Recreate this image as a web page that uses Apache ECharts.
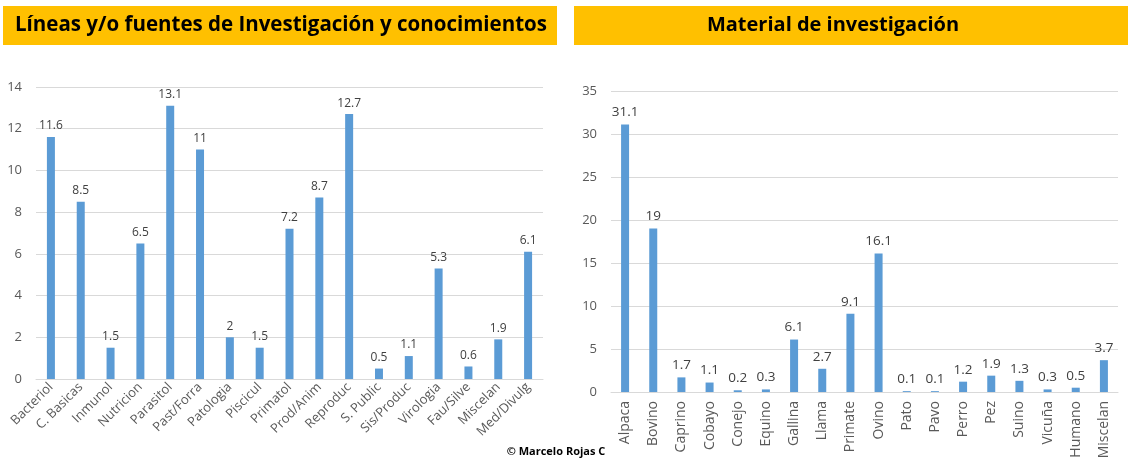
<!DOCTYPE html>
<html><head><meta charset="utf-8">
<script src="https://cdn.jsdelivr.net/npm/echarts@6/dist/echarts.min.js"></script>
<style>html,body{margin:0;padding:0;background:#fff}#c{width:1128px;height:464px}</style>
</head><body><div id="c"></div>
<script>
const leftTitle = "Líneas y/o fuentes de Investigación y conocimientos";
const rightTitle = "Material de investigación";
const leftCats = ["Bacteriol","C. Basicas","Inmunol","Nutricion","Parasitol","Past/Forra","Patologia","Piscicul","Primatol","Prod/Anim","Reproduc","S. Public","Sis/Produc","Virologia","Fau/Silve","Miscelan","Med/Divulg"];
const leftVals = [11.6,8.5,1.5,6.5,13.1,11,2,1.5,7.2,8.7,12.7,0.5,1.1,5.3,0.6,1.9,6.1];
const rightCats = ["Alpaca","Bovino","Caprino","Cobayo","Conejo","Equino","Gallina","Llama","Primate","Ovino","Pato","Pavo","Perro","Pez","Suino","Vicuña","Humano","Miscelan"];
const rightVals = [31.1,19,1.7,1.1,0.2,0.3,6.1,2.7,9.1,16.1,0.1,0.1,1.2,1.9,1.3,0.3,0.5,3.7];
const credit = "© Marcelo Rojas C";

const FONT = "'Open Sans', 'Liberation Sans', sans-serif";
const chart = echarts.init(document.getElementById('c'));
function xAxis(idx, cats, rot, fs, mg){
  return {type:'category', gridIndex:idx, data:cats,
    axisLine:{lineStyle:{color:'#D9D9D9'}}, axisTick:{show:false},
    axisLabel:{rotate:rot, color:'#595959', fontSize:fs, fontFamily:FONT, interval:0, margin:mg}};
}
function yAxis(idx, max, step){
  return {type:'value', gridIndex:idx, min:0, max:max, interval:step,
    axisLine:{show:false}, axisTick:{show:false},
    splitLine:{lineStyle:{color:'#D9D9D9'}},
    axisLabel:{color:'#595959', fontSize:13, fontFamily:FONT, margin:14}};
}
function series(idx, vals, fs){
  return {type:'bar', xAxisIndex:idx, yAxisIndex:idx, data:vals, barWidth:8,
    itemStyle:{color:'#5B9BD5'},
    label:{show:true, position:'top', color:'#404040', fontSize:fs, fontFamily:FONT, distance:5},
    animation:false};
}
chart.setOption({
  animation:false,
  grid:[{left:36, right:585, top:87, bottom:85},{left:611, right:10, top:91, bottom:72}],
  xAxis:[xAxis(0,leftCats,45,13,6), xAxis(1,rightCats,90,14,9)],
  yAxis:[yAxis(0,14,2), yAxis(1,35,5)],
  series:[series(0,leftVals,12), series(1,rightVals,13.5)],
  graphic:[
    {type:'rect', shape:{x:3,y:6,width:554,height:39}, style:{fill:'#FFC000'}},
    {type:'text', x:281, y:25.5, style:{text:leftTitle, fill:'#000', font:"bold 20.5px "+FONT, align:'center', verticalAlign:'middle'}},
    {type:'rect', shape:{x:574,y:6,width:554,height:39}, style:{fill:'#FFC000'}},
    {type:'text', x:833, y:25.5, style:{text:rightTitle, fill:'#000', font:"bold 20px "+FONT, align:'center', verticalAlign:'middle'}},
    {type:'text', x:556, y:452, style:{text:credit, fill:'#000', font:"bold 11px "+FONT, align:'center', verticalAlign:'middle'}}
  ]
});
</script></body></html>
